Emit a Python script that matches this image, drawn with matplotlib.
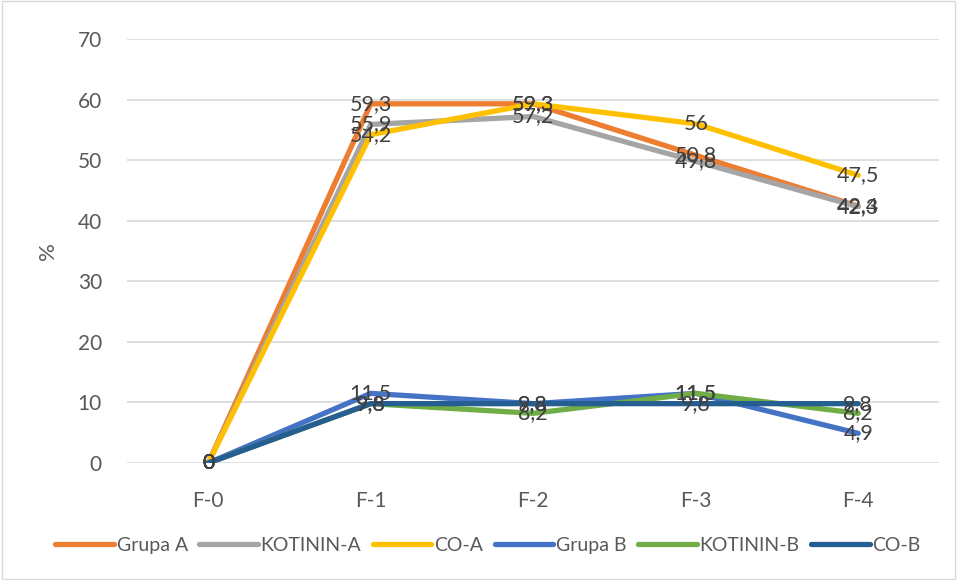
import matplotlib
matplotlib.use('Agg')
from matplotlib import pyplot as plt
import numpy as np

plt.rcParams['font.family'] = ['Lato', 'DejaVu Sans']

categories = ['F-0', 'F-1', 'F-2', 'F-3', 'F-4']
grupa_a = [0, 59.3, 59.3, 50.8, 42.4]
kotinin_a = [0, 55.9, 57.2, 49.8, 42.3]
co_a = [0, 54.2, 59.3, 56, 47.5]
grupa_b = [0, 11.5, 9.8, 11.5, 4.9]
kotinin_b = [0, 9.8, 8.2, 11.5, 8.2]
co_b = [0, 9.8, 9.8, 9.8, 9.8]

series = [
    ('Grupa A', grupa_a, '#ED7D31'),
    ('KOTININ-A', kotinin_a, '#A5A5A5'),
    ('CO-A', co_a, '#FFC000'),
    ('Grupa B', grupa_b, '#4472C4'),
    ('KOTININ-B', kotinin_b, '#70AD47'),
    ('CO-B', co_b, '#255E91'),
]

fig = plt.figure(figsize=(9.57, 5.80), dpi=100)
ax = fig.add_axes([0.1327, 0.2017, 0.849, 0.7311])
x = np.arange(len(categories))

for name, vals, col in series:
    ax.plot(x, vals, color=col, lw=3.8, label=name, solid_capstyle='round')
for name, vals, col in series:
    for xi, v in zip(x, vals):
        txt = f'{v:g}'.replace('.', ',')
        ax.text(xi, v, txt, ha='center', va='center', fontsize=15.5,
                color='#404040', zorder=5)

ax.set_xlim(-0.5, len(categories) - 0.5)
ax.set_ylim(0, 70)
ax.set_yticks(range(0, 71, 10))
ax.set_xticks(x)
ax.set_xticklabels(categories)
ax.yaxis.grid(True, color='#D9D9D9', lw=1.2)
ax.set_axisbelow(True)
for s in ax.spines.values():
    s.set_visible(False)
ax.tick_params(length=0, labelsize=15, colors='#595959', pad=18)
ax.tick_params(axis='x', pad=20)
ax.set_ylabel('%', fontsize=16, color='#595959', labelpad=14)

fig.legend(loc='lower center', ncol=6, bbox_to_anchor=(0.51, 0.015),
           frameon=False, fontsize=14, handlelength=3.0, handletextpad=0.15,
           columnspacing=0.6, labelcolor='#595959')

fig.patches.append(plt.Rectangle((0.002, 0.002), 0.996, 0.996, transform=fig.transFigure,
                                 fill=False, edgecolor='#D9D9D9', lw=1))

fig.savefig('out.png', dpi=100)
